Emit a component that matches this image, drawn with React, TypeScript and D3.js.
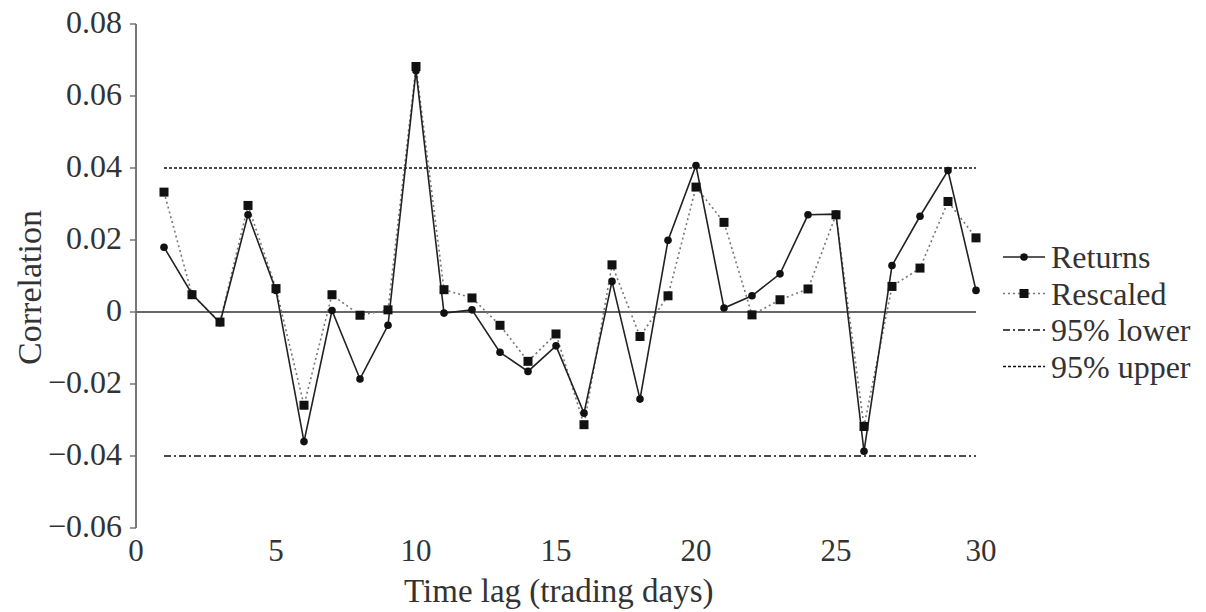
import * as d3 from "d3";
import React from "react";

// lag (trading days) 1..30
const lags = d3.range(1, 31);
const returns = [
  0.018, 0.005, -0.003, 0.027, 0.006, -0.036, 0.0004, -0.0186, -0.0037, 0.067,
  -0.0003, 0.0006, -0.0112, -0.0165, -0.0094, -0.0281, 0.0085, -0.0242, 0.0199, 0.0407,
  0.0011, 0.0045, 0.0106, 0.027, 0.0272, -0.0387, 0.0129, 0.0266, 0.0393, 0.006,
];
const rescaled = [
  0.0333, 0.0048, -0.0028, 0.0296, 0.0065, -0.0259, 0.0048, -0.0009, 0.0006, 0.0682,
  0.0062, 0.0039, -0.0037, -0.0137, -0.0061, -0.0313, 0.0131, -0.0068, 0.0045, 0.0347,
  0.0249, -0.0008, 0.0034, 0.0064, 0.027, -0.0318, 0.0071, 0.0122, 0.0307, 0.0206,
];
const lower95 = -0.04;
const upper95 = 0.04;
const xTicks = [0, 5, 10, 15, 20, 25, 30];
const yTicks = [0.08, 0.06, 0.04, 0.02, 0, -0.02, -0.04, -0.06];
const legendLabels = ["Returns", "Rescaled", "95% lower", "95% upper"];

const W = 1206, H = 612;
const FONT = "'Liberation Serif', 'Times New Roman', serif";

const x = d3.scaleLinear().domain([0, 30]).range([136, 976]);
const y = d3.scaleLinear().domain([-0.06, 0.08]).range([528, 24]);

const fmtY = (v) => (v === 0 ? "0" : d3.format(".2f")(v).replace("-", "\u2212"));

const line = d3.line()
  .x((_v, i) => x(lags[i]))
  .y((v) => y(v));

const legendStyles = [
  { stroke: "#222", dash: null, width: 1.6, marker: "circle" },
  { stroke: "#777", dash: "2,3", width: 1.6, marker: "square" },
  { stroke: "#111", dash: "7,3,2,3", width: 1.3, marker: null },
  { stroke: "#111", dash: "3,2", width: 1.3, marker: null },
];

export default function App() {
  const x0 = x(0);
  const x1 = x(1);
  const x30 = x(30);
  return (
    <svg width={W} height={H} style={{ position: "absolute", left: 0, top: 0, background: "#fff" }}
      fontFamily={FONT}>
      {/* y axis */}
      <line x1={x0} x2={x0} y1={y(0.08)} y2={y(-0.06)} stroke="#777" strokeWidth={2} />
      {yTicks.map((t) => (
        <g key={t}>
          <line x1={x0 - 6} x2={x0} y1={y(t)} y2={y(t)} stroke="#777" strokeWidth={1.5} />
          <text x={x0 - 14} y={y(t) - 2} textAnchor="end" dominantBaseline="central"
            fontSize={32} fill="#333">{fmtY(t)}</text>
        </g>
      ))}
      <text transform={`translate(29,${y(0.0068)}) rotate(-90)`} textAnchor="middle"
        dominantBaseline="central" fontSize={34} fill="#333">Correlation</text>

      {/* zero line */}
      <line x1={x0} x2={x30} y1={y(0)} y2={y(0)} stroke="#666" strokeWidth={2} />
      {xTicks.map((t) => (
        <text key={t} x={x(t) + (t === 30 ? 5 : 0)} y={561} textAnchor="middle" fontSize={31} fill="#333">{t}</text>
      ))}
      <text x={x(15.1)} y={602} textAnchor="middle" fontSize={33} fill="#333">Time lag (trading days)</text>

      {/* 95% bounds */}
      <line x1={x1} x2={x30} y1={y(upper95)} y2={y(upper95)} stroke="#111" strokeWidth={1.3} strokeDasharray="3,2" />
      <line x1={x1} x2={x30} y1={y(lower95)} y2={y(lower95)} stroke="#111" strokeWidth={1.3} strokeDasharray="7,3,2,3" />

      {/* rescaled */}
      <path d={line(rescaled) || ""} fill="none" stroke="#777" strokeWidth={1.6} strokeDasharray="2,3" />
      {/* returns */}
      <path d={line(returns) || ""} fill="none" stroke="#222" strokeWidth={1.6} />
      {rescaled.map((v, i) => (
        <rect key={"s" + i} x={x(lags[i]) - 4.5} y={y(v) - 4.5} width={9} height={9} fill="#111" />
      ))}
      {returns.map((v, i) => (
        <circle key={"c" + i} cx={x(lags[i])} cy={y(v)} r={3.8} fill="#111" />
      ))}

      {/* legend */}
      {legendLabels.map((lab, i) => {
        const ly = 257 + i * 36.5;
        const s = legendStyles[i];
        return (
          <g key={lab}>
            <line x1={1003} x2={1045} y1={ly} y2={ly} stroke={s.stroke} strokeWidth={s.width}
              strokeDasharray={s.dash || undefined} />
            {s.marker === "circle" && <circle cx={1024} cy={ly} r={3.8} fill="#111" />}
            {s.marker === "square" && <rect x={1019.5} y={ly - 4.5} width={9} height={9} fill="#111" />}
            <text x={1051} y={ly} dominantBaseline="central" fontSize={32} fill="#333">{lab}</text>
          </g>
        );
      })}
    </svg>
  );
}
